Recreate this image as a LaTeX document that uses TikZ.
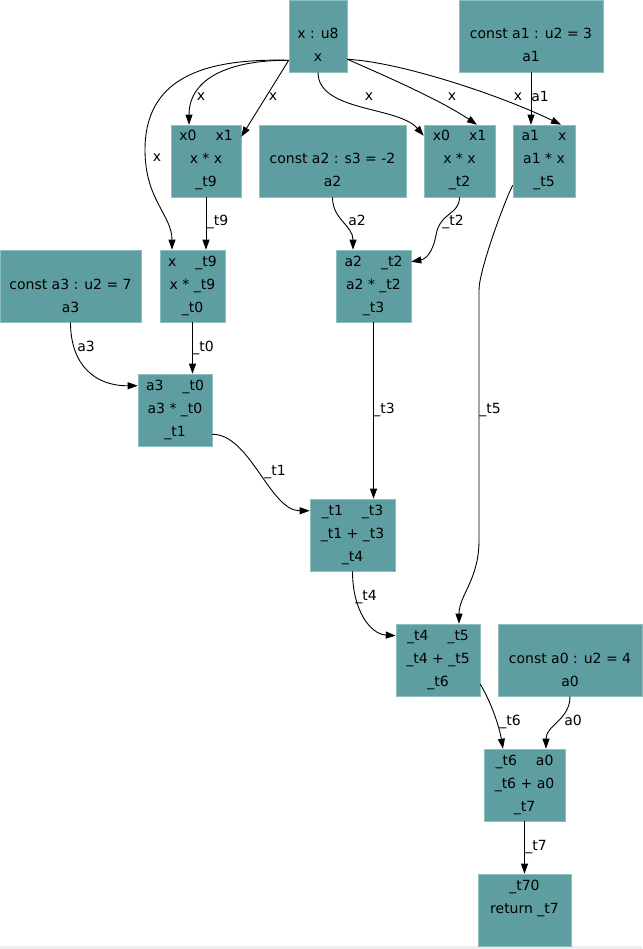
\documentclass[tikz,border=0pt]{standalone}
\usepackage{fontspec}
\setmainfont{DejaVu Sans}
\usepackage{xcolor}
\definecolor{cadet}{HTML}{5F9EA0}
\definecolor{rim}{HTML}{8DBFC1}
\usetikzlibrary{arrows.meta, calc}
\newcommand{\cellrows}[3]{\rule[-5pt]{0pt}{16pt}#1\\\rule[-5pt]{0pt}{16pt}#2\\\rule[-5pt]{0pt}{16pt}#3}
\tikzset{
    opbox/.style = {
      fill = cadet,
      draw = rim,
      line width = 0.6pt,
      inner sep = 0pt,
      minimum height = 72pt,
      align = center,
      font = \fontsize{14}{23}\selectfont
    },
    lbl/.style = {
      font = \fontsize{14}{16}\selectfont,
      inner sep = 0pt,
      anchor = base
    },
    -->/.style = {
      line width = 0.9pt,
      -{Triangle[length=10pt,width=7pt]}
    },
}
\begin{document}
\begin{tikzpicture}[x=1pt, y=-1pt]
	    \fill[white] (0,0) rectangle (642,949);
	    \fill[black!7] (0,946) rectangle (642,949);
	    \useasboundingbox (0,0) rectangle (642,949);

	    \node[opbox, minimum width=58pt]  (X)   at (318, 36)   {\cellrows{}{x : u8}{x}};
	    \node[opbox, minimum width=144pt] (A1)  at (531, 36)   {\cellrows{}{const a1 : u2 = 3}{a1}};
	    \node[opbox, minimum width=70pt]  (T9)  at (206, 161)  {\cellrows{x0\hspace{19pt}x1}{x * x}{\_t9}};
	    \node[opbox, minimum width=147pt] (A2)  at (332.5, 161) {\cellrows{}{const a2 : s3 = -2}{a2}};
	    \node[opbox, minimum width=71pt]  (T2)  at (459.5, 161) {\cellrows{x0\hspace{19pt}x1}{x * x}{\_t2}};
	    \node[opbox, minimum width=62pt]  (T5)  at (544, 161)  {\cellrows{a1\hspace{19pt}x}{a1 * x}{\_t5}};
	    \node[opbox, minimum width=141pt] (A3)  at (70.5, 286) {\cellrows{}{const a3 : u2 = 7}{a3}};
	    \node[opbox, minimum width=65pt]  (T0)  at (192.5, 286) {\cellrows{x\hspace{19pt}\_t9}{x * \_t9}{\_t0}};
	    \node[opbox, minimum width=75pt]  (T3)  at (373.5, 286) {\cellrows{a2\hspace{19pt}\_t2}{a2 * \_t2}{\_t3}};
	    \node[opbox, minimum width=74pt]  (T1)  at (175, 410)  {\cellrows{a3\hspace{19pt}\_t0}{a3 * \_t0}{\_t1}};
	    \node[opbox, minimum width=85pt]  (T4)  at (352.5, 535) {\cellrows{\_t1\hspace{19pt}\_t3}{\_t1 + \_t3}{\_t4}};
	    \node[opbox, minimum width=84pt]  (T6)  at (438, 660)  {\cellrows{\_t4\hspace{19pt}\_t5}{\_t4 + \_t5}{\_t6}};
	    \node[opbox, minimum width=144pt] (A0)  at (570, 660)  {\cellrows{}{const a0 : u2 = 4}{a0}};
	    \node[opbox, minimum width=81pt]  (T7)  at (524.5, 785) {\cellrows{\_t6\hspace{19pt}a0}{\_t6 + a0}{\_t7}};
	    \node[opbox, minimum width=93pt]  (T70) at (524.5, 910) {\cellrows{\_t70}{return \_t7}{}};

	    \draw[-->] ($(X.south west)+(0,-12)$) .. controls (230,60) and (189,78) .. ($(T9.north)+(-17,0)$) node[lbl] at (201,101) {x};
	    \draw[-->] ($(X.south west)+(0,-12)$) -- ($(T9.north east)+(0,12)$) node[lbl] at (273,101) {x};
	    \draw[-->] ($(X.south west)+(0,-12)$) .. controls (200,58) and (145,80) .. (145,150)
	               .. controls (145,200) and (172,215) .. ($(T0.north)+(-20.5,0)$) node[lbl] at (157,162) {x};
	    \draw[-->] (X.south) .. controls (318,112) and (398,106) .. ($(T2.north west)+(0,11)$) node[lbl] at (369,101) {x};
	    \draw[-->] ($(X.south east)+(0,-13)$) .. controls (390,78) and (440,100) .. ($(T2.north)+(17.5,0)$) node[lbl] at (452,101) {x};
	    \draw[-->] ($(X.south east)+(0,-13)$) .. controls (400,62) and (500,95) .. ($(T5.north)+(17,0)$) node[lbl] at (518,101) {x};
	    \draw[-->] (A1.south) -- ($(T5.north)+(-13,0)$) node[lbl] at (540,102) {a1};

	    \draw[-->] (T9.south) -- ($(T0.north)+(13.5,0)$) node[lbl] at (217.5,226) {\_t9};
	    \draw[-->] (A2.south) .. controls (332.5,220) and (353,225) .. ($(T3.north)+(-20.5,0)$) node[lbl] at (357,226) {a2};
	    \draw[-->] (T2.south) .. controls (459.5,215) and (440,212) .. (436,235)
	               .. controls (433,252) and (426,259) .. ($(T3.north east)+(0,12)$) node[lbl] at (453,226) {\_t2};

	    \draw[-->] (A3.south) .. controls (70.5,365) and (95,386) .. ($(T1.north west)+(0,12)$) node[lbl] at (86,351) {a3};
	    \draw[-->] (T0.south) -- ($(T1.north)+(17.5,0)$) node[lbl] at (203,351) {\_t0};

	    \draw[-->] ($(T1.south east)+(0,-12)$) .. controls (250,434) and (270,511) .. ($(T4.north west)+(0,12)$) node[lbl] at (275,475) {\_t1};
	    \draw[-->] (T3.south) -- ($(T4.north)+(21,0)$) node[lbl] at (384,413) {\_t3};
	    \draw[-->] ($(T5.south west)+(0,-12)$) .. controls (505,200) and (479,270) .. (479,290) -- (479,540)
	               .. controls (479,580) and (459,595) .. ($(T6.north)+(21,0)$) node[lbl] at (490,413) {\_t5};

	    \draw[-->] (T4.south) .. controls (352.5,610) and (370,634) .. ($(T6.north west)+(0,12)$) node[lbl] at (366,600) {\_t4};
	    \draw[-->] ($(T6.south east)+(0,-12)$) .. controls (490,700) and (499,725) .. ($(T7.north)+(-21.5,0)$) node[lbl] at (510,725) {\_t6};
	    \draw[-->] (A0.south) .. controls (570,720) and (546,725) .. ($(T7.north)+(21.5,0)$) node[lbl] at (573,725) {a0};
	    \draw[-->] (T7.south) -- (T70.north) node[lbl] at (536,850) {\_t7};
\end{tikzpicture}
\end{document}
